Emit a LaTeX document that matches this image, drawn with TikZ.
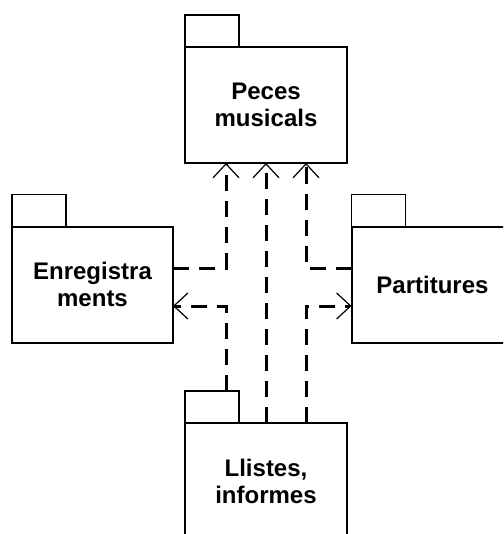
\documentclass[tikz,border=0pt]{standalone}
\usepackage{fontspec}
\setmainfont{Liberation Sans}
\usetikzlibrary{arrows.meta,positioning}
\tikzset{
	pkgbody/.style={draw,line width=1pt,outer sep=0pt,minimum width=81pt,minimum height=58pt,inner sep=0pt,align=center,font=\fontsize{12}{13.5}\selectfont\bfseries},
	pkgtab/.style={draw,line width=0.75pt,outer sep=0pt,minimum width=27pt,minimum height=16pt,inner sep=0pt,anchor=south west},
	dep/.style={line width=1.5pt,dash pattern=on 8pt off 5pt,-{Straight Barb[length=7pt,width=13pt,line width=0.6pt]}}
}
\begin{document}
\begin{tikzpicture}[x=0.5pt,y=-0.5pt]
		\useasboundingbox[fill=white] (0,0) rectangle (503,534);
		\clip (0,0) rectangle (503,534);
		% packages
		\node[pkgbody] (peces) at (266,105) {Peces\\musicals};
		\node[pkgtab] (pecestab) at (peces.north west) {};
		\node[pkgbody,minimum width=80.5pt] (enreg) at (92.5,284.5) {Enregistra\\ments};
		\node[pkgtab] (enregtab) at (enreg.north west) {};
		\node[pkgbody] (partit) at (432.5,284.5) {Partitures};
		\node[pkgtab] (partittab) at (partit.north west) {};
		\node[pkgbody] (llistes) at (266,481) {Llistes,\\informes};
		\node[pkgtab] (llistestab) at (llistes.north west) {};
		% dependencies
		\draw[dep] ([yshift=8.25pt]enreg.east) -| ([xshift=-20pt]peces.south);
		\draw[dep] ([yshift=8.25pt]partit.west) -| ([xshift=20pt]peces.south);
		\draw[dep] (llistes.north) -- (peces.south);
		\draw[dep] ([xshift=-20pt]llistes.north |- llistestab.north) |- ([yshift=-10.75pt]enreg.east);
		\draw[dep] ([xshift=20pt]llistes.north) |- ([yshift=-10.75pt]partit.west);
	\end{tikzpicture}
\end{document}
